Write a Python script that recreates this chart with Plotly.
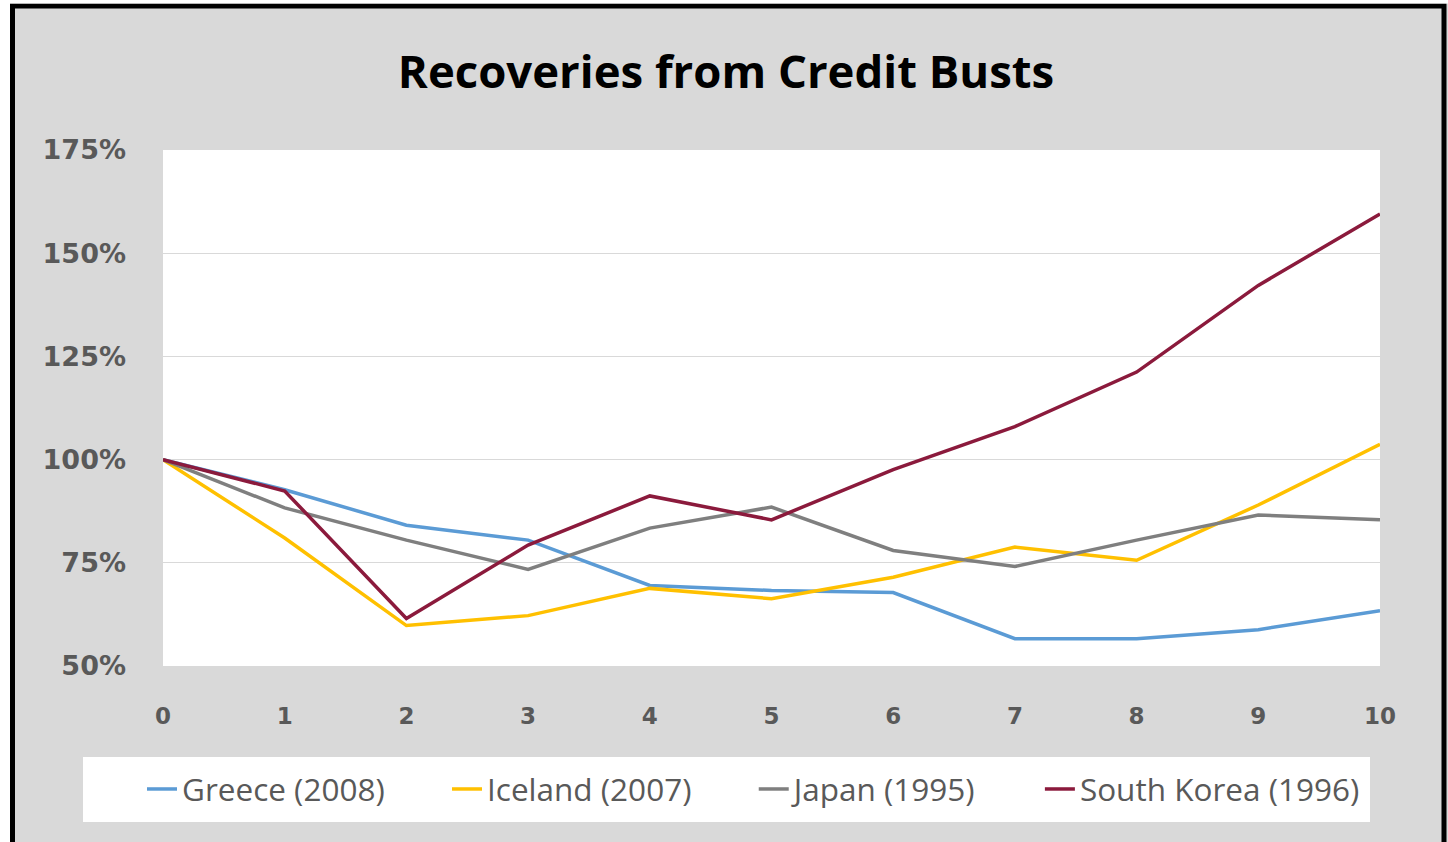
import plotly.graph_objects as go

years = [0, 1, 2, 3, 4, 5, 6, 7, 8, 9, 10]
greece = [100, 92.7, 84.1, 80.5, 69.5, 68.3, 67.8, 56.6, 56.6, 58.8, 63.4]
iceland = [100, 81.0, 59.8, 62.2, 68.8, 66.3, 71.5, 78.8, 75.6, 89.0, 103.7]
japan = [100, 88.3, 80.5, 73.4, 83.4, 88.5, 78.0, 74.1, 80.5, 86.6, 85.4]
south_korea = [100, 92.4, 61.5, 79.3, 91.2, 85.4, 97.6, 108.0, 121.2, 142.2, 159.5]

names = ["Greece (2008)", "Iceland (2007)", "Japan (1995)", "South Korea (1996)"]
colors = ["#5b9bd5", "#ffc000", "#7f7f7f", "#8b1a3c"]
values = [greece, iceland, japan, south_korea]
y_ticks = [50, 75, 100, 125, 150, 175]
y_labels = [f"{v}%" for v in y_ticks]
x_ticks = years

W, H = 1448, 842
L, R, T, B = 163, 68, 150, 176
PW, PH = W - L - R, H - T - B


def px_x(px):
    return (px - L) / PW


def px_y(py):
    return (H - B - py) / PH


PAD = "\u00a0" * 7
fig = go.Figure()
for i, (name, vals, color) in enumerate(zip(names, values, colors)):
    label = name + (PAD if i < len(names) - 1 else "")
    fig.add_trace(go.Scatter(x=years, y=vals, mode="lines", name=label,
                             line=dict(color=color, width=3.5)))

fig.update_layout(
    width=W, height=H,
    margin=dict(l=L, r=R, t=T, b=B, autoexpand=False),
    paper_bgcolor="#d9d9d9",
    plot_bgcolor="#ffffff",
    title=dict(text="<b>Recoveries from Credit Busts</b>", xref="container", yref="container",
               x=0.5014, y=1 - 72 / H, xanchor="center", yanchor="middle",
               font=dict(family="Open Sans", size=45.5, color="#000000")),
    xaxis=dict(range=[0, 10], tickvals=x_ticks, showgrid=False, zeroline=False,
               showline=False, ticks="", ticklabelstandoff=34,
               tickfont=dict(family="DejaVu Sans", size=23, color="#595959", weight="bold")),
    yaxis=dict(range=[50, 175], tickvals=y_ticks, ticktext=y_labels, showgrid=True,
               gridcolor="#d9d9d9", gridwidth=1, zeroline=False, showline=False,
               ticks="", ticklabelstandoff=36,
               tickfont=dict(family="DejaVu Sans", size=27, color="#595959", weight="bold")),
    legend=dict(orientation="h", x=px_x(142), xanchor="left", y=px_y(789), yanchor="middle",
                bgcolor="rgba(0,0,0,0)", borderwidth=0,
                font=dict(family="Open Sans", size=31.5, color="#595959")),
    showlegend=True,
    shapes=[
        dict(type="rect", xref="paper", yref="paper", x0=px_x(83), x1=px_x(1370),
             y0=px_y(822), y1=px_y(757), fillcolor="#ffffff", line=dict(width=0), layer="below"),
        dict(type="rect", xref="paper", yref="paper", x0=px_x(12.5), x1=px_x(1444),
             y0=px_y(900), y1=px_y(6), line=dict(color="#000000", width=5), layer="above"),
        dict(type="rect", xref="paper", yref="paper", x0=px_x(-5), x1=px_x(10),
             y0=px_y(900), y1=px_y(-5), fillcolor="#ffffff", line=dict(width=0), layer="above"),
        dict(type="rect", xref="paper", yref="paper", x0=px_x(-5), x1=px_x(1455),
             y0=px_y(3.5), y1=px_y(-5), fillcolor="#ffffff", line=dict(width=0), layer="above"),
    ],
)

fig.write_html("out.html", config={"displayModeBar": False},
               post_script="document.body.style.margin='0px';")
